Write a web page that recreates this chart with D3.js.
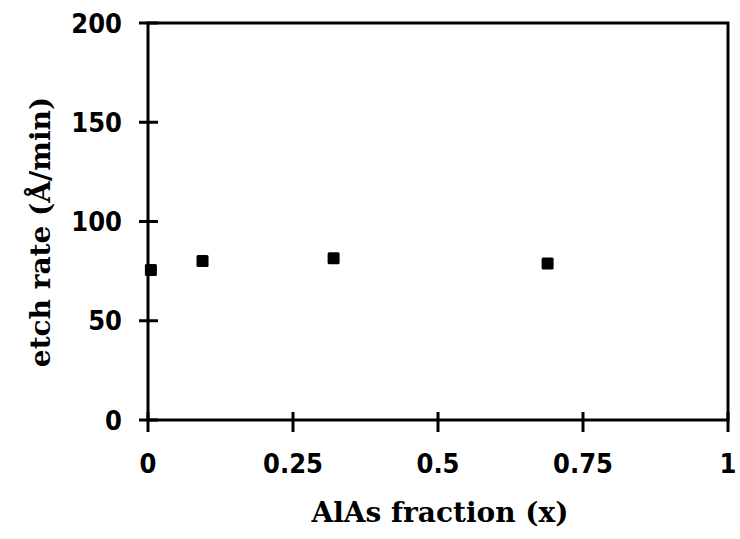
<!DOCTYPE html>
<html>
<head>
<meta charset="utf-8">
<script src="https://cdn.jsdelivr.net/npm/d3@7"></script>
<style>
  body { margin: 0; background: #fff; }
  svg { display: block; }
  .tick-label { font-family: 'DejaVu Sans Condensed', 'DejaVu Sans', sans-serif; font-weight: bold; font-size: 27px; }
  .axis-title { font-family: 'DejaVu Serif', serif; font-weight: bold; font-size: 28px; }
</style>
</head>
<body>
<div class="chart"></div>
<script>
'use strict';

// data
const alasFraction = [0.005, 0.094, 0.32, 0.689];
const etchRate = [75.6, 80.1, 81.5, 78.9];
const xTicks = [0, 0.25, 0.5, 0.75, 1];
const xTickLabels = ['0', '0.25', '0.5', '0.75', '1'];
const yTicks = [0, 50, 100, 150, 200];

const width = 740;
const height = 539;
const margin = { top: 23, right: 12, bottom: 119, left: 148 };
const graphWidth = width - margin.left - margin.right;
const graphHeight = height - margin.top - margin.bottom;

const svg = d3.select('.chart')
    .append('svg')
    .attr('width', width)
    .attr('height', height);

const graph = svg.append('g')
    .attr('transform', `translate(${margin.left}, ${margin.top})`);

// scales
const x = d3.scaleLinear().domain([0, 1]).range([0, graphWidth]);
const y = d3.scaleLinear().domain([0, 200]).range([graphHeight, 0]);

// frame
graph.append('rect')
    .attr('width', graphWidth)
    .attr('height', graphHeight)
    .attr('fill', 'none')
    .attr('stroke', '#000')
    .attr('stroke-width', 3);

// x ticks (cross the axis)
graph.selectAll('.xtick')
    .data(xTicks)
    .enter()
    .append('line')
    .attr('x1', d => x(d))
    .attr('x2', d => x(d))
    .attr('y1', graphHeight - 8)
    .attr('y2', graphHeight + 12)
    .attr('stroke', '#000')
    .attr('stroke-width', 3);

graph.selectAll('.xlabel')
    .data(xTicks)
    .enter()
    .append('text')
    .attr('class', 'tick-label')
    .attr('x', d => x(d))
    .attr('y', graphHeight + 53)
    .attr('text-anchor', 'middle')
    .text((d, i) => xTickLabels[i]);

// y ticks
graph.selectAll('.ytick')
    .data(yTicks)
    .enter()
    .append('line')
    .attr('x1', -9)
    .attr('x2', 10)
    .attr('y1', d => y(d))
    .attr('y2', d => y(d))
    .attr('stroke', '#000')
    .attr('stroke-width', 3);

graph.selectAll('.ylabel')
    .data(yTicks)
    .enter()
    .append('text')
    .attr('class', 'tick-label')
    .attr('x', -26)
    .attr('y', d => y(d))
    .attr('dy', '0.36em')
    .attr('text-anchor', 'end')
    .text(d => d);

// points
const size = 12;
graph.selectAll('.point')
    .data(alasFraction)
    .enter()
    .append('rect')
    .attr('x', d => x(d) - size / 2)
    .attr('y', (d, i) => y(etchRate[i]) - size / 2)
    .attr('width', size)
    .attr('height', size)
    .attr('rx', 1.5)
    .attr('fill', '#000');

// axis titles
svg.append('text')
    .attr('class', 'axis-title')
    .attr('x', margin.left + graphWidth / 2 + 2)
    .attr('y', 522)
    .attr('text-anchor', 'middle')
    .text('AlAs fraction (x)');

svg.append('text')
    .attr('class', 'axis-title')
    .attr('transform', 'translate(50, 232) rotate(-90)')
    .attr('text-anchor', 'middle')
    .text('etch rate (Å/min)');
</script>
</body>
</html>
